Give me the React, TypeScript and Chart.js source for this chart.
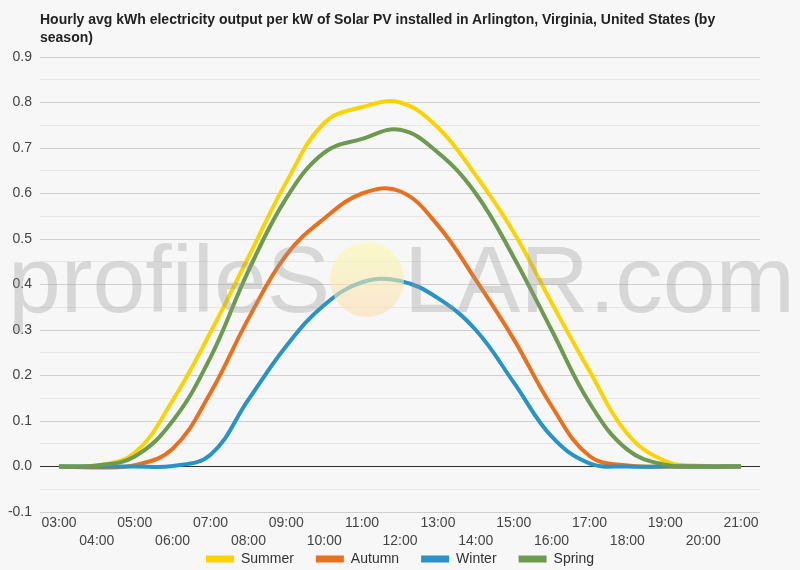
import { useEffect, useRef } from 'react'
import { Chart, registerables } from 'chart.js'

Chart.register(...registerables)

const FONT = "'Liberation Sans', Arial, sans-serif"

const HOURS = [
  '03:00', '04:00', '05:00', '06:00', '07:00', '08:00', '09:00', '10:00', '11:00', '12:00',
  '13:00', '14:00', '15:00', '16:00', '17:00', '18:00', '19:00', '20:00', '21:00',
]

const SEASONS = ['Summer', 'Autumn', 'Winter', 'Spring']
const SEASON_COLORS = ['#fcd300', '#e8711f', '#2993c5', '#6c9a4f']

const SUMMER = [0, 0.002, 0.03, 0.145, 0.295, 0.46, 0.625, 0.755, 0.79, 0.8, 0.745, 0.64, 0.515, 0.36, 0.21, 0.072, 0.012, 0.001, 0]
const AUTUMN = [0, -0.002, 0.003, 0.039, 0.162, 0.325, 0.465, 0.545, 0.6, 0.605, 0.53, 0.41, 0.28, 0.133, 0.023, 0.002, 0, 0, 0]
const WINTER = [0, 0, 0, 0.001, 0.026, 0.147, 0.265, 0.355, 0.405, 0.408, 0.37, 0.3, 0.185, 0.066, 0.007, 0, 0, 0, 0]
const SPRING = [0, 0.002, 0.022, 0.1, 0.24, 0.43, 0.59, 0.69, 0.72, 0.74, 0.69, 0.6, 0.46, 0.3, 0.14, 0.037, 0.004, 0, 0]

const SERIES = [SUMMER, AUTUMN, WINTER, SPRING]

const LEGEND_PAD = 22

const isMajor = (v: number) => Math.round(v * 100) % 10 === 0

// legend padding is also used for horizontal spacing, so pull the box top back up under the ticks
// and centre it on the whole canvas instead of the padded area
const legendShift = {
  id: 'legendShift',
  afterLayout(chart: Chart) {
    const legend = chart.legend
    if (!legend) return
    legend.top -= LEGEND_PAD
    legend.left = 0
    legend.right = chart.width
  },
}

export default function App() {
  const canvasRef = useRef<HTMLCanvasElement>(null)

  useEffect(() => {
    if (!canvasRef.current) return
    const chart = new Chart(canvasRef.current, {
      type: 'line',
      data: {
        labels: HOURS,
        datasets: SERIES.map((data, i) => ({
          label: SEASONS[i],
          data,
          borderColor: SEASON_COLORS[i],
          backgroundColor: SEASON_COLORS[i],
          borderWidth: 4,
          pointRadius: 0,
          tension: 0.4,
          // later series sit on top, spring last
          order: SERIES.length - i,
        })),
      },
      options: {
        responsive: true,
        maintainAspectRatio: false,
        animation: false,
        layout: { padding: { top: 57, right: 40, left: 0, bottom: 0 } },
        scales: {
          x: {
            offset: true,
            afterFit: (scale) => {
              scale.height = 40
            },
            grid: { display: false, drawTicks: false },
            border: { display: false },
            ticks: {
              autoSkip: false,
              maxRotation: 0,
              padding: 2,
              color: '#444',
              font: { family: FONT, size: 14, lineHeight: 1.3 },
              callback: (_v, i) => (i % 2 === 0 ? HOURS[i] : ['', HOURS[i]]),
            },
          },
          y: {
            min: -0.1,
            max: 0.9,
            afterFit: (scale) => {
              scale.width = 40
            },
            border: { display: false },
            grid: {
              drawTicks: false,
              color: (ctx) => {
                const v = ctx.tick ? ctx.tick.value : 1
                if (Math.abs(v) < 1e-9) return '#333'
                return isMajor(v) ? '#cfcfcf' : '#e6e6e6'
              },
            },
            ticks: {
              stepSize: 0.05,
              maxTicksLimit: 40,
              autoSkip: false,
              padding: 8,
              color: '#444',
              font: { family: FONT, size: 14 },
              callback: (v) => (isMajor(Number(v)) ? Number(v).toFixed(1) : ''),
            },
          },
        },
        plugins: {
          title: { display: false },
          tooltip: { enabled: false },
          legend: {
            position: 'bottom',
            maxHeight: 18,
            labels: {
              boxWidth: 28,
              boxHeight: 7,
              padding: LEGEND_PAD,
              color: '#333',
              font: { family: FONT, size: 14 },
              sort: (a, b) => (a.datasetIndex ?? 0) - (b.datasetIndex ?? 0),
              generateLabels: (c) =>
                Chart.defaults.plugins.legend.labels.generateLabels(c).map((item) => ({ ...item, lineWidth: 0 })),
            },
          },
        },
      },
      plugins: [legendShift],
    })
    return () => chart.destroy()
  }, [])

  return (
    <div
      style={{
        position: 'absolute',
        top: 0,
        left: 0,
        width: 800,
        height: 570,
        background: '#f7f7f7',
        overflow: 'hidden',
      }}
    >
      <div style={{ position: 'absolute', inset: 0 }}>
        <canvas ref={canvasRef}></canvas>
      </div>
      <div
        style={{
          position: 'absolute',
          left: 40,
          top: 10,
          fontFamily: FONT,
          fontWeight: 'bold',
          fontSize: 14,
          lineHeight: '18px',
          color: '#222',
          whiteSpace: 'nowrap',
        }}
      >
        Hourly avg kWh electricity output per kW of Solar PV installed in Arlington, Virginia, United States (by
        <br />
        season)
      </div>
      {/* watermark sits over the plot */}
      <div
        style={{
          position: 'absolute',
          left: 8,
          top: 232,
          fontFamily: FONT,
          fontSize: 95,
          lineHeight: '95px',
          color: 'rgba(150,150,150,0.32)',
          whiteSpace: 'nowrap',
          pointerEvents: 'none',
        }}
      >
        profileS
        <span
          style={{
            display: 'inline-block',
            width: 74,
            height: 75,
            borderRadius: '50%',
            verticalAlign: '-5px',
            background: 'linear-gradient(to bottom, rgba(250,250,170,0.6), rgba(250,220,180,0.6))',
          }}
        ></span>
        LAR.com
      </div>
    </div>
  )
}
